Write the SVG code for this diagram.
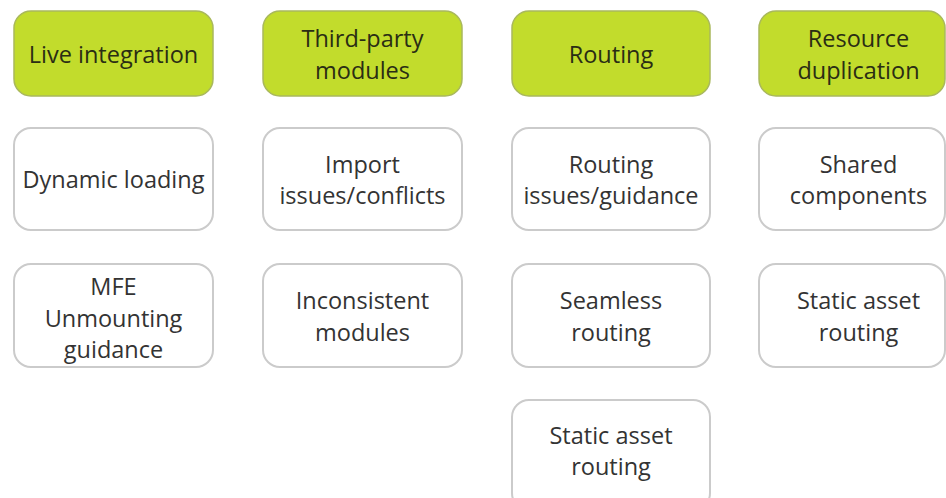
<svg xmlns="http://www.w3.org/2000/svg" width="946" height="498" viewBox="0 0 946 498">
  <style>
    .head rect { fill: #c2dc2c; stroke: #a9b85c; stroke-width: 1.5; }
    .item rect { fill: #ffffff; stroke: #cbcbcb; stroke-width: 2; }
    text { font-family: "Open Sans", "Noto Sans", "Liberation Sans", sans-serif; font-size: 23.5px; text-anchor: middle; }
    .head text { fill: #2a2d14; }
    .item text { fill: #333333; }
  </style>
  <rect width="946" height="498" fill="#ffffff"/>

  <!-- Column 1: Live integration -->
  <g id="live-integration" class="head">
    <rect x="14" y="11" width="199" height="85" rx="17"/>
    <text x="113.5" y="62.5">Live integration</text>
  </g>
  <g id="dynamic-loading" class="item">
    <rect x="14" y="128" width="199" height="102" rx="17"/>
    <text x="113.5" y="188">Dynamic loading</text>
  </g>
  <g id="mfe-unmounting" class="item">
    <rect x="14" y="264" width="199" height="103" rx="17"/>
    <text x="113.5" y="295">MFE</text>
    <text x="113.5" y="326.5">Unmounting</text>
    <text x="113.5" y="358">guidance</text>
  </g>

  <!-- Column 2: Third-party modules -->
  <g id="third-party-modules" class="head">
    <rect x="263" y="11" width="199" height="85" rx="17"/>
    <text x="362.5" y="47">Third-party</text>
    <text x="362.5" y="78.5">modules</text>
  </g>
  <g id="import-issues" class="item">
    <rect x="263" y="128" width="199" height="102" rx="17"/>
    <text x="362.5" y="172.5">Import</text>
    <text x="362.5" y="204">issues/conflicts</text>
  </g>
  <g id="inconsistent-modules" class="item">
    <rect x="263" y="264" width="199" height="103" rx="17"/>
    <text x="362.5" y="309">Inconsistent</text>
    <text x="362.5" y="340.5">modules</text>
  </g>

  <!-- Column 3: Routing -->
  <g id="routing" class="head">
    <rect x="512" y="11" width="198" height="85" rx="17"/>
    <text x="611" y="62.5">Routing</text>
  </g>
  <g id="routing-issues" class="item">
    <rect x="512" y="128" width="198" height="102" rx="17"/>
    <text x="611" y="172.5">Routing</text>
    <text x="611" y="204">issues/guidance</text>
  </g>
  <g id="seamless-routing" class="item">
    <rect x="512" y="264" width="198" height="103" rx="17"/>
    <text x="611" y="309">Seamless</text>
    <text x="611" y="340.5">routing</text>
  </g>
  <g id="static-asset-routing-3" class="item">
    <rect x="512" y="400" width="198" height="110" rx="17"/>
    <text x="611" y="444">Static asset</text>
    <text x="611" y="475">routing</text>
  </g>

  <!-- Column 4: Resource duplication -->
  <g id="resource-duplication" class="head">
    <rect x="759" y="11" width="186" height="85" rx="17"/>
    <text x="858.5" y="47">Resource</text>
    <text x="858.5" y="78.5">duplication</text>
  </g>
  <g id="shared-components" class="item">
    <rect x="759" y="128" width="186" height="102" rx="17"/>
    <text x="858.5" y="172.5">Shared</text>
    <text x="858.5" y="204">components</text>
  </g>
  <g id="static-asset-routing-4" class="item">
    <rect x="759" y="264" width="186" height="103" rx="17"/>
    <text x="858.5" y="309">Static asset</text>
    <text x="858.5" y="340.5">routing</text>
  </g>

  <g id="connectors"/>
</svg>
